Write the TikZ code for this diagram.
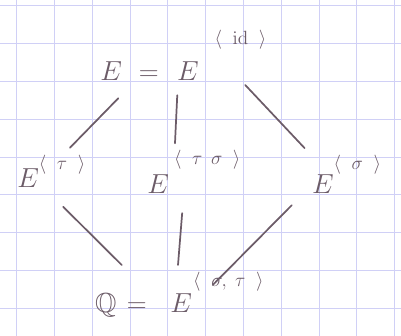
\documentclass[tikz,border=0pt]{standalone}
\usepackage{amsfonts, amsmath, amssymb}
\usetikzlibrary{calc}
\DeclareMathSizes{20.74}{20.74}{14.4}{10}

\definecolor{tinta}{RGB}{108,92,104}
\definecolor{cuadricula}{RGB}{208,208,246}

% superindice a mano: separacion, altura, grupo
\newcommand{\hsup}[3]{^{\hspace{#1}\raisebox{#2}{$\scriptstyle\langle\mkern10mu#3\mkern10mu\rangle$}}}

\begin{document}
\begin{tikzpicture}[
    etiqueta/.style={text=tinta, font=\huge, inner sep=0pt, anchor=base west},
    trazo/.style={draw=tinta, line width=1.3pt, line cap=round},
    rejilla/.style={draw=cuadricula, line width=0.5pt}]
  % papel cuadriculado
  \useasboundingbox (0,0) rectangle (10.61,8.89);
  \foreach \i in {0,...,10}
    \draw[rejilla] (0.44+\i,0) -- (0.44+\i,8.89);
  \foreach \j in {0,...,8}
    \draw[rejilla] (0,8.74-\j) -- (10.61,8.74-\j);

  % cuerpos intermedios
  \node[etiqueta] (Eid) at (2.65,6.77) {$E\hspace{7pt}=\hspace{8pt}E\hsup{12pt}{19pt}{\mathrm{id}}$};
  \node[etiqueta] (Etau) at (0.45,3.92) {$E\hsup{0pt}{6pt}{\tau}$};
  \node[etiqueta] (Etausig) at (3.89,3.78) {$E\hsup{4pt}{14pt}{\tau\mkern8mu\sigma}$};
  \node[etiqueta] (Esig) at (8.25,3.78) {$E\hsup{0pt}{10pt}{\sigma}$};
  \node[etiqueta] (Q) at (2.51,0.61) {$\mathbb{Q}\hspace{2pt}=\hspace{12pt}E\hsup{1pt}{12pt}{\sigma,\mkern8mu\tau}$};

  % inclusiones
  \draw[trazo] ($(Eid.base west)+(0.48,-0.48)$) -- ($(Etau.base west)+(1.40,1.06)$);
  \draw[trazo] ($(Eid.base west)+(2.04,-0.40)$) -- ($(Etausig.base west)+(0.74,1.32)$);
  \draw[trazo] ($(Eid.base west)+(3.84,-0.13)$) -- ($(Esig.base west)+(-0.19,1.19)$);
  \draw[trazo] ($(Etau.base west)+(1.22,-0.50)$) -- ($(Q.base west)+(0.71,1.27)$);
  \draw[trazo] ($(Etausig.base west)+(0.93,-0.53)$) -- ($(Q.base west)+(2.20,1.27)$);
  \draw[trazo] ($(Esig.base west)+(-0.53,-0.32)$) -- ($(Q.base west)+(3.12,0.74)$);
\end{tikzpicture}
\end{document}
